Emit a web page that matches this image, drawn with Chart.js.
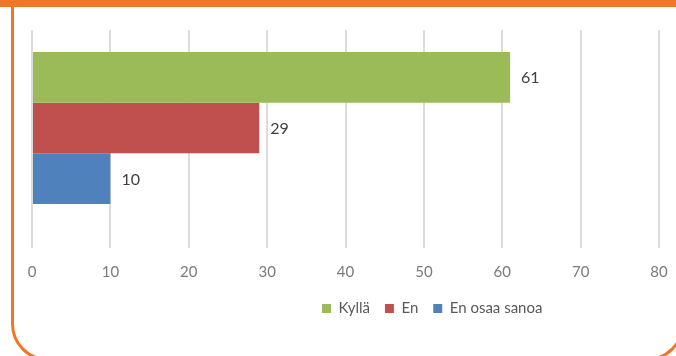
<!DOCTYPE html>
<html><head><meta charset="utf-8">
<script src="https://cdn.jsdelivr.net/npm/chart.js@4.4.0/dist/chart.umd.min.js"></script>
<style>
html,body{margin:0;padding:0;background:#fff;}
#wrap{position:relative;width:676px;height:356px;overflow:hidden;background:#fff;}
#band{position:absolute;left:0;top:0;width:676px;height:7px;background:#F37526;}
#frame{position:absolute;left:11px;top:-40px;width:673px;height:401px;box-sizing:border-box;border:3px solid #F37526;border-radius:37px;}
canvas{position:absolute;left:0;top:0;}
</style></head>
<body><div id="wrap"><div id="frame"></div><div id="band"></div><canvas id="c" width="676" height="356"></canvas></div>
<script>
const categories = [''];
const seriesNames = ['Kyllä', 'En', 'En osaa sanoa'];
const seriesValues = [[61], [29], [10]];
const seriesColors = ['#9BBB59', '#C0504D', '#4F81BD'];
const xTicks = [0, 10, 20, 30, 40, 50, 60, 70, 80];

const FONT = 'Lato';
const AREA_BOTTOM = 226;
const LEGEND_LEFT = 322;
const LEGEND_CY = 308.5;

const dataLabelPlugin = {
  id: 'dataLabels',
  afterDatasetsDraw(chart) {
    const ctx = chart.ctx;
    ctx.save();
    ctx.font = '16px ' + FONT;
    ctx.fillStyle = '#404040';
    ctx.textAlign = 'left';
    ctx.textBaseline = 'middle';
    chart.data.datasets.forEach((ds, i) => {
      const meta = chart.getDatasetMeta(i);
      meta.data.forEach((el, j) => {
        ctx.fillText(String(ds.data[j]), el.x + 11, el.y + 1);
      });
    });
    ctx.restore();
  }
};

const legendPlace = {
  id: 'legendPlace',
  afterLayout(chart) {
    const lg = chart.legend;
    if (!lg) return;
    const pad = lg.options.labels.padding;
    const w = lg.width, h = lg.height;
    const fs = lg.options.labels.font.size || 15;
    lg.left = LEGEND_LEFT - pad;
    lg.right = lg.left + w;
    lg.top = LEGEND_CY - fs / 2 - pad;
    lg.bottom = lg.top + h;
  }
};

new Chart(document.getElementById('c'), {
  type: 'bar',
  data: {
    labels: categories,
    datasets: seriesNames.map((n, i) => ({
      label: n,
      data: seriesValues[i],
      backgroundColor: seriesColors[i],
      borderWidth: 0,
      categoryPercentage: 152 / 196,
      barPercentage: 1
    }))
  },
  options: {
    indexAxis: 'y',
    responsive: false,
    animation: false,
    devicePixelRatio: 1,
    layout: { padding: { left: 32, right: 17, top: 30, bottom: 0 } },
    scales: {
      y: { display: false },
      x: {
        min: 0, max: 80,
        afterBuildTicks: s => { s.ticks = xTicks.map(v => ({ value: v })); },
        afterFit: s => {
          const lh = s.chart.legend ? s.chart.legend.height : 0;
          s.height = 356 - lh - AREA_BOTTOM;
          s.paddingLeft = 0;
          s.paddingRight = 0;
        },
        grid: { color: '#dcdcdc', lineWidth: 2, drawTicks: true, tickLength: 22, tickColor: '#dcdcdc' },
        border: { display: false },
        ticks: { color: '#7a7a7a', font: { family: FONT, size: 15 }, padding: 15, maxRotation: 0, autoSkip: false }
      }
    },
    plugins: {
      legend: {
        position: 'bottom',
        align: 'start',
        labels: { boxWidth: 9, boxHeight: 9, padding: 15, color: '#595959', font: { family: FONT, size: 15 } }
      },
      tooltip: { enabled: false }
    }
  },
  plugins: [dataLabelPlugin, legendPlace]
});
</script>
</body></html>
